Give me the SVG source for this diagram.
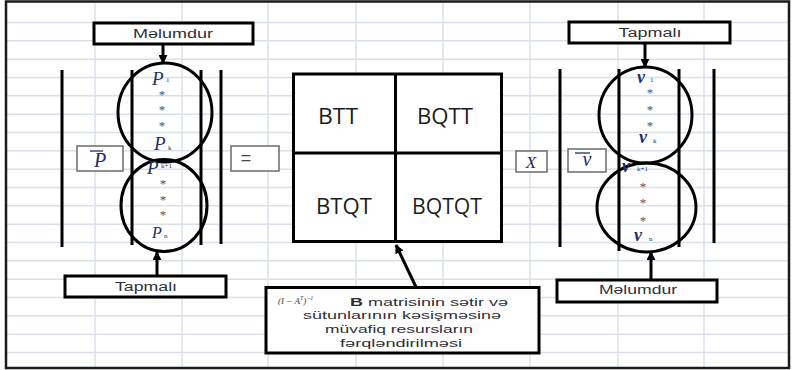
<svg xmlns="http://www.w3.org/2000/svg" width="792" height="370" viewBox="0 0 792 370">
  <defs>
    <marker id="head" viewBox="0 0 10 10" refX="9" refY="5" markerWidth="9" markerHeight="9" markerUnits="userSpaceOnUse" orient="auto">
      <path d="M0,0 L10,5 L0,10 z" fill="#000"/>
    </marker>
    <style>
      .grid line { stroke: #d9dfeb; stroke-width: 1.4; }
      .frame { fill: none; stroke: #1a1a1a; stroke-width: 2.5; }
      .bar { stroke: #000; stroke-width: 3; stroke-linecap: butt; }
      .ring { fill: none; stroke: #000; stroke-width: 3; }
      .box { fill: #fff; stroke: #000; stroke-width: 3; }
      .tag { fill: #fff; stroke: #6b6b6b; stroke-width: 1.5; }
      .lbl { font-family: "Liberation Sans", Arial, sans-serif; font-size: 12px; fill: #2f2f3a; text-anchor: middle; }
      .cell { font-family: "Open Sans", "Liberation Sans", sans-serif; font-size: 22px; fill: #1c1c1c; text-anchor: middle; }
      .var { font-family: "Liberation Serif", "Times New Roman", serif; font-style: italic; fill: #1f2d66; }
      .pv { font-size: 19px; }
      .vv { font-size: 18px; font-weight: bold; }
      .sub { font-family: "Liberation Serif", serif; font-size: 7px; fill: #1f2d66; }
      .dot { font-family: "Liberation Serif", serif; font-size: 13px; fill: #4a5570; text-anchor: middle; }
      .note { font-family: "Liberation Sans", Arial, sans-serif; font-size: 11.5px; fill: #2f2f3a; }
      .edge { stroke: #000; stroke-width: 3; fill: none; marker-end: url(#head); }
    </style>
  </defs>

  <rect width="792" height="370" fill="#fff"/>

  <!-- sheet grid -->
  <g class="grid">
    <line x1="95" y1="3" x2="95" y2="367"/>
    <line x1="182" y1="3" x2="182" y2="367"/>
    <line x1="268" y1="3" x2="268" y2="367"/>
    <line x1="356" y1="3" x2="356" y2="367"/>
    <line x1="443" y1="3" x2="443" y2="367"/>
    <line x1="530" y1="3" x2="530" y2="367"/>
    <line x1="618" y1="3" x2="618" y2="367"/>
    <line x1="704" y1="3" x2="704" y2="367"/>
    <line x1="6" y1="22.5" x2="789" y2="22.5"/>
    <line x1="6" y1="40.8" x2="789" y2="40.8"/>
    <line x1="6" y1="59.2" x2="789" y2="59.2"/>
    <line x1="6" y1="77.5" x2="789" y2="77.5"/>
    <line x1="6" y1="95.8" x2="789" y2="95.8"/>
    <line x1="6" y1="114.2" x2="789" y2="114.2"/>
    <line x1="6" y1="132.5" x2="789" y2="132.5"/>
    <line x1="6" y1="150.8" x2="789" y2="150.8"/>
    <line x1="6" y1="169.2" x2="789" y2="169.2"/>
    <line x1="6" y1="187.5" x2="789" y2="187.5"/>
    <line x1="6" y1="205.8" x2="789" y2="205.8"/>
    <line x1="6" y1="224.2" x2="789" y2="224.2"/>
    <line x1="6" y1="242.5" x2="789" y2="242.5"/>
    <line x1="6" y1="260.8" x2="789" y2="260.8"/>
    <line x1="6" y1="279.2" x2="789" y2="279.2"/>
    <line x1="6" y1="297.5" x2="789" y2="297.5"/>
    <line x1="6" y1="315.8" x2="789" y2="315.8"/>
    <line x1="6" y1="334.2" x2="789" y2="334.2"/>
    <line x1="6" y1="352.5" x2="789" y2="352.5"/>
  </g>

  <rect class="frame" x="6" y="1.5" width="783" height="366.5"/>

  <!-- left vector P -->
  <g id="vector-p">
    <line class="bar" x1="62" y1="70" x2="62" y2="247"/>
    <line class="bar" x1="132" y1="70" x2="132" y2="245"/>
    <line class="bar" x1="201" y1="70" x2="201" y2="245"/>
    <line class="bar" x1="221" y1="70" x2="221" y2="244"/>
    <ellipse class="ring" cx="165" cy="112.5" rx="47" ry="49.5"/>
    <ellipse class="ring" cx="164" cy="205.5" rx="43" ry="46"/>
    <text class="var pv" x="152" y="85">P</text><text class="sub" x="166" y="82">1</text>
    <text class="dot" x="162" y="99">*</text>
    <text class="dot" x="162" y="114">*</text>
    <text class="dot" x="162" y="130">*</text>
    <text class="var pv" x="154" y="150">P</text><text class="sub" x="168" y="150">k</text>
    <text class="var pv" x="147" y="174">P</text><text class="sub" x="161" y="168">k+1</text>
    <text class="dot" x="163" y="188">*</text>
    <text class="dot" x="163" y="204">*</text>
    <text class="dot" x="163" y="219">*</text>
    <text class="var" x="152" y="238" font-size="16">P</text><text class="sub" x="164" y="238">n</text>
  </g>

  <g id="known-p">
    <rect class="box" x="94" y="23" width="159" height="21"/>
    <text class="lbl" x="173" y="37.5" textLength="80" lengthAdjust="spacingAndGlyphs">Məlumdur</text>
  </g>
  <g id="find-p">
    <rect class="box" x="65" y="276" width="161" height="21"/>
    <text class="lbl" x="146" y="290.5" textLength="62" lengthAdjust="spacingAndGlyphs">Tapmalı</text>
  </g>

  <g id="p-bar">
    <rect class="tag" x="77" y="146" width="46" height="25"/>
    <line x1="90" y1="151" x2="103" y2="151" stroke="#1f2d66" stroke-width="1.3"/>
    <text class="var" x="100" y="167" font-size="20" text-anchor="middle">P</text>
  </g>
  <g id="equals">
    <rect class="tag" x="231" y="146" width="48" height="25"/>
    <text x="246" y="164" font-family="Liberation Sans, sans-serif" font-size="18" fill="#444" text-anchor="middle">=</text>
  </g>

  <!-- block matrix -->
  <g id="matrix">
    <rect fill="#fff" stroke="#000" stroke-width="3" x="293.5" y="74" width="208" height="167.5"/>
    <line class="bar" x1="395.5" y1="74" x2="395.5" y2="243"/>
    <line class="bar" x1="293.5" y1="153" x2="501.5" y2="153"/>
    <text class="cell" x="338" y="124" textLength="40" lengthAdjust="spacingAndGlyphs">BTT</text>
    <text class="cell" x="445" y="124" textLength="56" lengthAdjust="spacingAndGlyphs">BQTT</text>
    <text class="cell" x="344" y="214" textLength="56" lengthAdjust="spacingAndGlyphs">BTQT</text>
    <text class="cell" x="447" y="214" textLength="70" lengthAdjust="spacingAndGlyphs">BQTQT</text>
  </g>

  <g id="times">
    <rect class="tag" x="516" y="151" width="31" height="21"/>
    <text class="var" x="531" y="168" font-size="17" text-anchor="middle">X</text>
  </g>
  <g id="v-bar">
    <rect class="tag" x="568" y="149" width="38" height="23"/>
    <line x1="575" y1="153" x2="590" y2="153" stroke="#1f2d66" stroke-width="1.3"/>
    <text class="var" x="587" y="166" font-size="20" text-anchor="middle">v</text>
  </g>

  <!-- right vector v -->
  <g id="vector-v">
    <line class="bar" x1="560" y1="69" x2="560" y2="247"/>
    <line class="bar" x1="619" y1="69" x2="619" y2="251"/>
    <line class="bar" x1="679" y1="69" x2="679" y2="247"/>
    <line class="bar" x1="714" y1="69" x2="714" y2="243"/>
    <ellipse class="ring" cx="645.5" cy="115" rx="46.5" ry="48"/>
    <ellipse class="ring" cx="646.5" cy="207.5" rx="49.5" ry="44.5"/>
    <text class="var vv" x="637" y="83">v</text><text class="sub" x="650" y="82">1</text>
    <text class="dot" x="650" y="97">*</text>
    <text class="dot" x="650" y="114">*</text>
    <text class="dot" x="650" y="130">*</text>
    <text class="var vv" x="639" y="143">v</text><text class="sub" x="653" y="143">k</text>
    <text class="var vv" x="622" y="172">v</text><text class="sub" x="637" y="171">k+1</text>
    <text class="dot" x="643" y="191">*</text>
    <text class="dot" x="643" y="207">*</text>
    <text class="dot" x="643" y="225">*</text>
    <text class="var vv" x="634" y="241">v</text><text class="sub" x="649" y="241">n</text>
  </g>

  <g id="find-v">
    <rect class="box" x="569" y="22" width="161" height="21"/>
    <text class="lbl" x="650" y="36.5" textLength="63" lengthAdjust="spacingAndGlyphs">Tapmalı</text>
  </g>
  <g id="known-v">
    <rect class="box" x="557" y="280" width="160" height="22"/>
    <text class="lbl" x="638" y="294" textLength="78" lengthAdjust="spacingAndGlyphs">Məlumdur</text>
  </g>

  <!-- explanation of the inverse matrix -->
  <g id="note">
    <rect class="box" x="266" y="287.5" width="273" height="65.5"/>
    <text x="278" y="304" font-family="Liberation Serif, serif" font-style="italic" font-size="9" fill="#3a3a4a">(I − A<tspan font-size="6" dy="-4">T</tspan><tspan dy="4">)</tspan><tspan font-size="6" dy="-4">−1</tspan></text>
    <text class="note" x="350" y="306" textLength="158" lengthAdjust="spacingAndGlyphs"><tspan font-weight="bold">B</tspan> matrisinin  sətir və</text>
    <text class="note" x="303" y="319" textLength="198" lengthAdjust="spacingAndGlyphs">sütunlarının  kəsişməsinə</text>
    <text class="note" x="325" y="332.5" textLength="148" lengthAdjust="spacingAndGlyphs">müvafiq resursların</text>
    <text class="note" x="340" y="346.5" textLength="122" lengthAdjust="spacingAndGlyphs">fərqləndirilməsi</text>
  </g>

  <!-- connectors -->
  <g id="connectors">
    <line class="edge" x1="163" y1="44" x2="163" y2="63"/>
    <line class="edge" x1="157" y1="276" x2="157" y2="252"/>
    <line class="edge" x1="645" y1="43" x2="645" y2="67"/>
    <line class="edge" x1="651" y1="280" x2="651" y2="252"/>
    <line class="edge" x1="416" y1="287" x2="396" y2="245"/>
  </g>
</svg>
